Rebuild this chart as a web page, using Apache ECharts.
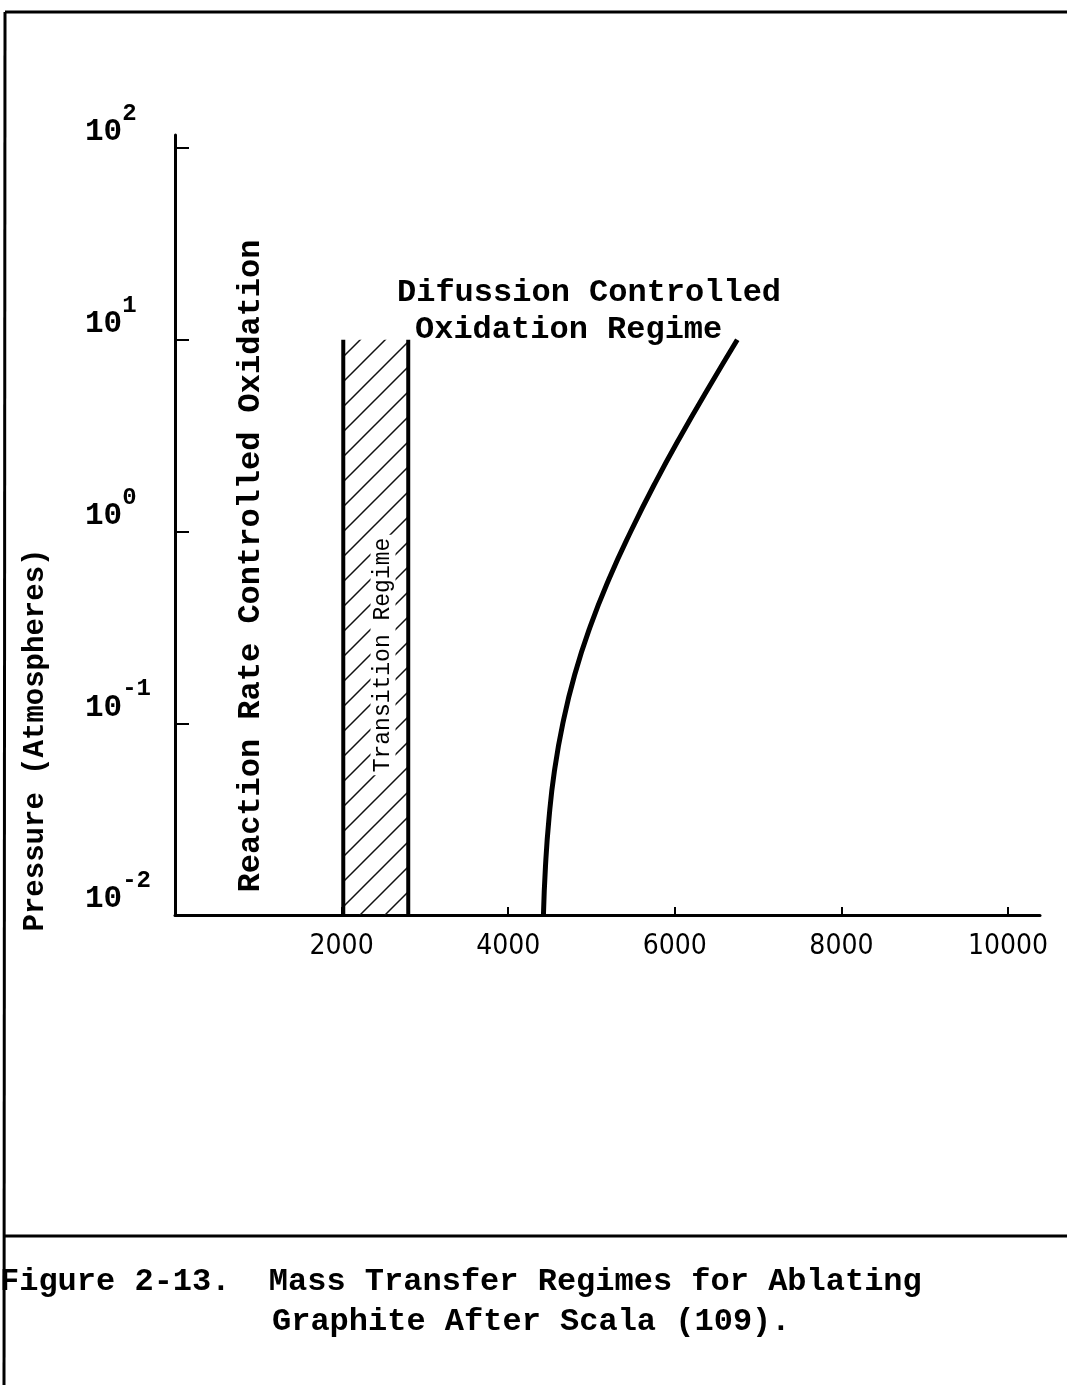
<!DOCTYPE html>
<html><head><meta charset="utf-8">
<script src="https://cdn.jsdelivr.net/npm/echarts@6/dist/echarts.min.js"></script>
<style>html,body{margin:0;padding:0;background:#fff}#c{width:1067px;height:1385px}</style>
</head><body><div id="c"></div>
<script>
// ---- data ----
const xTickValues = [2000, 4000, 6000, 8000, 10000];
const yTickValues = [0.01, 0.1, 1, 10, 100];
const reactionLimitT = [2020, 2020];
const transitionLimitT = [2800, 2800];
const boundaryP = [0.01, 10];
const diffusionT = [4423, 4447, 4489, 4555, 4656, 4798, 4983, 5210, 5471, 5763, 6078, 6411, 6750];
const diffusionP = [0.01, 0.0178, 0.0317, 0.0564, 0.1, 0.179, 0.318, 0.565, 1.0, 1.79, 3.19, 5.67, 10];
const yAxisTitle = 'Pressure (Atmospheres)';
const regionLabels = ['Reaction Rate Controlled Oxidation', 'Transition Regime', 'Difussion Controlled', 'Oxidation Regime'];
const captionLines = ['Figure 2-13.  Mass Transfer Regimes for Ablating', 'Graphite After Scala (109).'];

const MONO = '"Liberation Mono", "DejaVu Sans Mono", monospace';
const NARROW = '"Liberation Sans Narrow", "DejaVu Sans Condensed", "Liberation Sans", sans-serif';

function zip(a, b) { return a.map((v, i) => [v, b[i]]); }

function hatchPattern() {
  const s = 25;
  const c = document.createElement('canvas');
  c.width = s; c.height = s;
  const g = c.getContext('2d');
  g.strokeStyle = '#111';
  g.lineWidth = 1.5;
  g.beginPath();
  g.moveTo(0, s); g.lineTo(s, 0);
  g.moveTo(-3, 3); g.lineTo(3, -3);
  g.moveTo(s - 3, s + 3); g.lineTo(s + 3, s - 3);
  g.stroke();
  return c;
}

const chart = echarts.init(document.getElementById('c'), null, {renderer: 'canvas'});
const option = {
  animation: false,
  backgroundColor: '#fff',
  grid: {left: 175, top: 135, right: 27, bottom: 470, containLabel: false},
  xAxis: {
    type: 'value', min: 0, max: 10384,
    splitLine: {show: false},
    axisLine: {lineStyle: {color: '#000', width: 3}},
    axisTick: {inside: true, length: 8, lineStyle: {color: '#000', width: 2}, customValues: xTickValues},
    axisLabel: {
      customValues: xTickValues, margin: 18, color: '#000',
      fontFamily: NARROW, fontSize: 28,
      formatter: function (v) { return String(v); }
    }
  },
  yAxis: {
    type: 'log', logBase: 10, min: 0.01, max: 117,
    splitLine: {show: false},
    axisLine: {lineStyle: {color: '#000', width: 3}},
    axisTick: {inside: true, length: 14, lineStyle: {color: '#000', width: 2}, customValues: yTickValues},
    axisLabel: {
      customValues: yTickValues,
      align: 'left', margin: 90, verticalAlign: 'bottom', color: '#000',
      formatter: function (v) {
        const e = Math.round(Math.log10(v));
        return '{g| }{b|10}{s|' + e + '}';
      },
      rich: {
        g: {fontSize: 1, lineHeight: 46, width: 0},
        b: {fontFamily: MONO, fontSize: 31, fontWeight: 'bold', lineHeight: 22, verticalAlign: 'bottom', color: '#000'},
        s: {fontFamily: MONO, fontSize: 24, fontWeight: 'bold', lineHeight: 10, verticalAlign: 'top', color: '#000'}
      }
    },
    name: yAxisTitle, nameLocation: 'middle', nameGap: 125, nameRotate: 90,
    nameTextStyle: {fontFamily: MONO, fontSize: 29, fontWeight: 'bold', color: '#000', padding: [0, 430, 0, 0]}
  },
  series: [
    {
      type: 'line', name: 'reaction limit', data: zip(reactionLimitT, boundaryP),
      symbol: 'none', lineStyle: {color: '#000', width: 4},
      markArea: {
        silent: true,
        itemStyle: {color: {image: hatchPattern(), repeat: 'repeat'}},
        data: [[{coord: [reactionLimitT[0], boundaryP[0]]}, {coord: [transitionLimitT[0], boundaryP[1]]}]]
      }
    },
    {
      type: 'line', name: 'transition limit', data: zip(transitionLimitT, boundaryP),
      symbol: 'none', lineStyle: {color: '#000', width: 4}
    },
    {
      type: 'line', name: 'diffusion limit', data: zip(diffusionT, diffusionP),
      symbol: 'none', smooth: 0.5, lineStyle: {color: '#000', width: 5}
    }
  ],
  graphic: [
    {type: 'line', shape: {x1: 5, y1: 12, x2: 1067, y2: 12}, style: {stroke: '#000', lineWidth: 3}},
    {type: 'line', shape: {x1: 5, y1: 12, x2: 4, y2: 1385}, style: {stroke: '#000', lineWidth: 3}},
    {type: 'line', shape: {x1: 3, y1: 1236, x2: 1067, y2: 1236}, style: {stroke: '#000', lineWidth: 3}},
    {type: 'text', x: 251, y: 566, rotation: Math.PI / 2,
      style: {text: regionLabels[0], font: 'bold 32px ' + MONO, fill: '#000', align: 'center', verticalAlign: 'middle'}},
    {type: 'text', x: 383, y: 655, rotation: Math.PI / 2, z: 10,
      style: {text: regionLabels[1], font: '23px ' + MONO, fill: '#000', align: 'center', verticalAlign: 'middle', backgroundColor: '#fff', padding: [1, 3]}},
    {type: 'text', x: 397, y: 293,
      style: {text: regionLabels[2], font: 'bold 32px ' + MONO, fill: '#000', align: 'left', verticalAlign: 'middle'}},
    {type: 'text', x: 415, y: 330,
      style: {text: regionLabels[3], font: 'bold 32px ' + MONO, fill: '#000', align: 'left', verticalAlign: 'middle'}},
    {type: 'text', x: 0, y: 1282,
      style: {text: captionLines[0], font: 'bold 32px ' + MONO, fill: '#000', align: 'left', verticalAlign: 'middle'}},
    {type: 'text', x: 272, y: 1322,
      style: {text: captionLines[1], font: 'bold 32px ' + MONO, fill: '#000', align: 'left', verticalAlign: 'middle'}}
  ]
};
chart.setOption(option);
</script>
</body></html>
